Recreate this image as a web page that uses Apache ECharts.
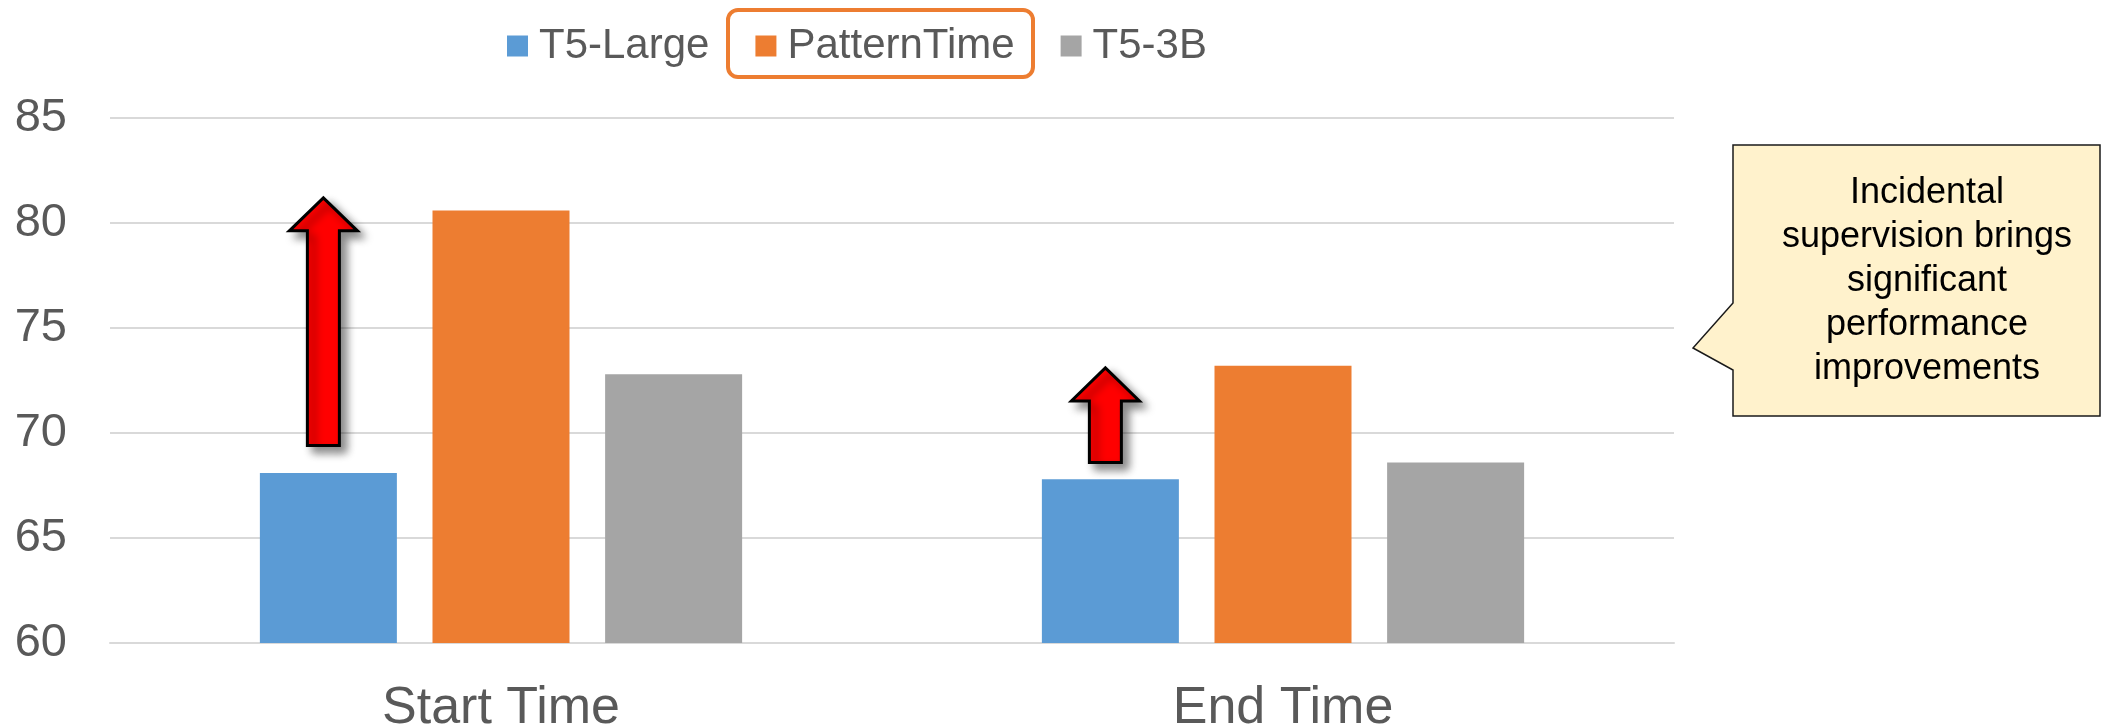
<!DOCTYPE html>
<html>
<head>
<meta charset="utf-8">
<script src="https://cdn.jsdelivr.net/npm/echarts@6/dist/echarts.min.js"></script>
<style>
  html, body { margin: 0; padding: 0; background: #ffffff; }
  #chart { width: 2102px; height: 726px; }
</style>
</head>
<body>
<div id="chart"></div>
<script>
// Categories and series values
const categories = ['Start Time', 'End Time'];
const seriesNames = ['T5-Large', 'PatternTime', 'T5-3B'];
const t5Large = [68.1, 67.8];
const patternTime = [80.6, 73.2];
const t53b = [72.8, 68.6];

// Value axis range
const yMin = 60;
const yMax = 85;
const yStep = 5;

// Improvement arrows above the T5-Large bars (value where each arrow starts / ends)
const arrowFrom = [69.4, 68.6];
const arrowTo = [81.2, 73.1];

// Callout text
const calloutLines = ['Incidental', 'supervision brings', 'significant', 'performance', 'improvements'];

const FONT = 'Arial, "Liberation Sans", sans-serif';
const colors = ['#5B9BD5', '#ED7D31', '#A5A5A5'];
const BAR_W = 137;
const BAR_GAP = 0.26;

const chart = echarts.init(document.getElementById('chart'), null, { renderer: 'canvas' });

const valueSets = [t5Large, patternTime, t53b];

chart.setOption({
  backgroundColor: '#ffffff',
  animation: false,
  color: colors,
  textStyle: { fontFamily: FONT },
  legend: {
    data: seriesNames,
    left: 502,
    top: 20,
    icon: 'rect',
    itemWidth: 21,
    itemHeight: 21,
    itemGap: 46,
    textStyle: { fontSize: 42, color: '#595959', fontFamily: FONT, padding: [0, 0, 0, 6] }
  },
  grid: { left: 110, right: 428, top: 118, bottom: 83, containLabel: false, outerBoundsMode: 'none' },
  xAxis: {
    type: 'category',
    data: categories,
    axisTick: { show: false },
    axisLine: { lineStyle: { color: '#D9D9D9', width: 2 } },
    axisLabel: { fontSize: 52, color: '#595959', margin: 40, fontFamily: FONT }
  },
  yAxis: {
    type: 'value',
    min: yMin,
    max: yMax,
    interval: yStep,
    axisLine: { show: false },
    axisTick: { show: false },
    axisLabel: { fontSize: 47, color: '#595959', margin: 43, fontFamily: FONT, padding: [0, 0, 8, 0] },
    splitLine: { lineStyle: { color: '#D9D9D9', width: 2 } }
  },
  series: seriesNames.map((name, i) => ({
    name: name,
    type: 'bar',
    data: valueSets[i],
    barWidth: BAR_W,
    barGap: (BAR_GAP * 100) + '%',
    itemStyle: { color: colors[i] }
  }))
});

// Annotations: legend highlight, improvement arrows, callout
function arrowShape(cx, yTip, yBase) {
  const hw = 34, sw = 16, hh = 33;
  return [
    [cx, yTip],
    [cx + hw, yTip + hh],
    [cx + sw, yTip + hh],
    [cx + sw, yBase],
    [cx - sw, yBase],
    [cx - sw, yTip + hh],
    [cx - hw, yTip + hh]
  ];
}

const graphics = [];

// Rounded frame around the PatternTime legend entry
graphics.push({
  type: 'rect',
  shape: { x: 728, y: 10, width: 305, height: 67, r: 10 },
  style: { fill: 'none', stroke: '#ED7D31', lineWidth: 4 },
  z: 10
});

// Arrows over the first bar of each group
const barOffset = BAR_W + BAR_W * BAR_GAP;
categories.forEach((cat, i) => {
  const cx = chart.convertToPixel({ xAxisIndex: 0 }, cat) - barOffset - 5;
  const yTip = chart.convertToPixel({ yAxisIndex: 0 }, arrowTo[i]);
  const yBase = chart.convertToPixel({ yAxisIndex: 0 }, arrowFrom[i]);
  graphics.push({
    type: 'polygon',
    shape: { points: arrowShape(cx, yTip, yBase) },
    style: {
      fill: '#FF0000',
      stroke: '#000000',
      lineWidth: 3,
      lineJoin: 'miter',
      shadowBlur: 9,
      shadowOffsetX: 6,
      shadowOffsetY: 6,
      shadowColor: 'rgba(0,0,0,0.45)'
    },
    z: 20
  });
});

// Speech callout on the right
graphics.push({
  type: 'polygon',
  shape: {
    points: [
      [1733, 145], [2100, 145], [2100, 416], [1733, 416],
      [1733, 370], [1693, 348], [1733, 303]
    ]
  },
  style: { fill: '#FFF2CC', stroke: '#1a1a1a', lineWidth: 1.5 },
  z: 20
});
graphics.push({
  type: 'text',
  x: 1927,
  y: 281,
  style: {
    text: calloutLines.join('\n'),
    fontSize: 36,
    lineHeight: 44,
    fontFamily: FONT,
    fill: '#000000',
    align: 'center',
    verticalAlign: 'middle'
  },
  z: 21
});

chart.setOption({ graphic: graphics });
</script>
</body>
</html>
